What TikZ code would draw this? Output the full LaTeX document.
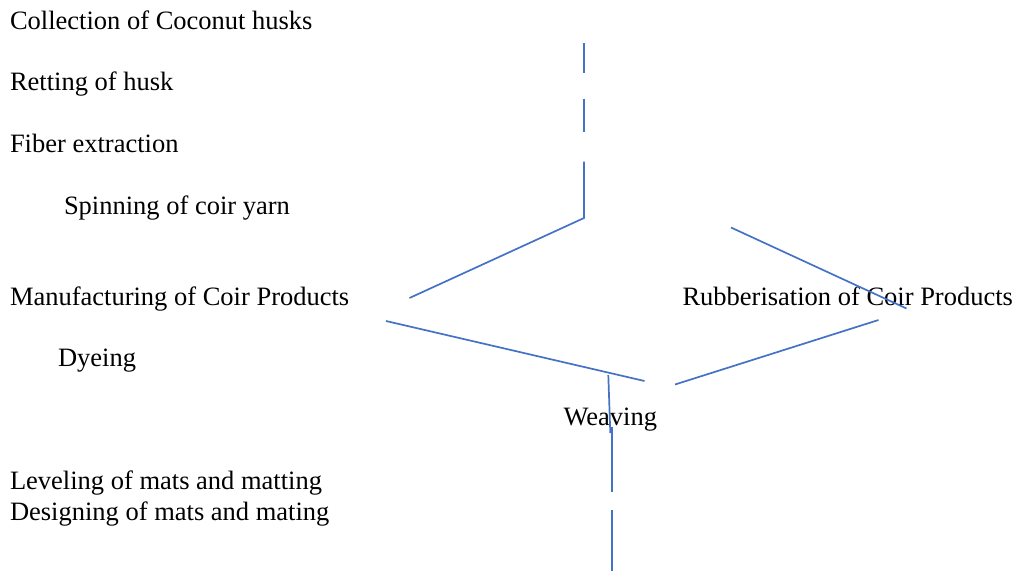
\documentclass[tikz,border=0pt]{standalone}
\usepackage{fontspec}
\setmainfont{Liberation Serif}
\definecolor{lineblue}{RGB}{68,114,196}
\tikzset{
  lbl/.style={anchor=base west, inner sep=0pt, outer sep=0pt, font=\fontsize{26.5}{30}\selectfont},
  conn/.style={draw=lineblue, line width=1.7pt, line cap=butt}
}
\begin{document}
\begin{tikzpicture}[x=1pt,y=-1pt]
\useasboundingbox (0,0) rectangle (1015,571);
% texts
\node[lbl] (collect) at (10,29) {Collection of Coconut husks};
\node[lbl] (retting) at (10,90.5) {Retting of husk};
\node[lbl] (fiber) at (10,152.5) {Fiber extraction};
\node[lbl] (spin) at (64,214.5) {Spinning of coir yarn};
\node[lbl] (manu) at (10,305) {Manufacturing of Coir Products};
\node[lbl] (rubber) at (682.5,305) {Rubberisation of Coir Products};
\node[lbl] (dye) at (58,366.5) {Dyeing};
\node[lbl] (weave) at (563.5,425.5) {Weaving};
\node[lbl] (level) at (10,489) {Leveling of mats and matting};
\node[lbl] (design) at (10,520.5) {Designing of mats and mating};
% connector end points
\coordinate (a1) at (584,43);   \coordinate (a2) at (584,72.5);
\coordinate (b1) at (584,98.5); \coordinate (b2) at (584,131.5);
\coordinate (c1) at (584,161.5);\coordinate (c2) at (584,218); \coordinate (c3) at (409.5,298);
\coordinate (d1) at (386,321);  \coordinate (d2) at (644.5,381);
\coordinate (e1) at (731,227.5);\coordinate (e2) at (906.5,308.5);
\coordinate (f1) at (878.5,320);\coordinate (f2) at (675,384.5);
\coordinate (g1) at (608.3,375);\coordinate (g2) at (610.3,433);
\coordinate (h1) at (612,427);  \coordinate (h2) at (612,492);
\coordinate (i1) at (612,510);  \coordinate (i2) at (612,571);
% connectors
\draw[conn] (a1) -- (a2);
\draw[conn] (b1) -- (b2);
\draw[conn] (c1) -- (c2) -- (c3);
\draw[conn] (d1) -- (d2);
\draw[conn] (e1) -- (e2);
\draw[conn] (f1) -- (f2);
\draw[conn] (g1) -- (g2);
\draw[conn] (h1) -- (h2);
\draw[conn] (i1) -- (i2);
\end{tikzpicture}
\end{document}
